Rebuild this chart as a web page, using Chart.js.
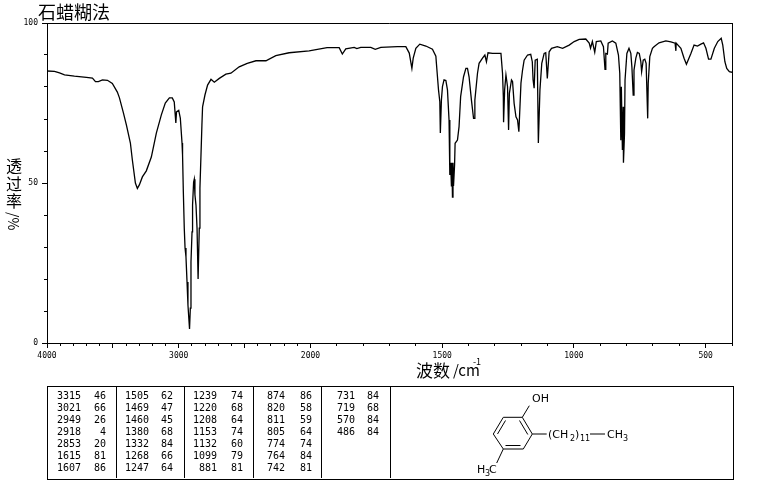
<!DOCTYPE html>
<html>
<head>
<meta charset="utf-8">
<script src="https://cdn.jsdelivr.net/npm/chart.js@4/dist/chart.umd.js"></script>
<style>
  html, body { margin: 0; padding: 0; background: #fff; }
  #page { position: relative; width: 765px; height: 482px; overflow: hidden; }
  #chart { position: absolute; left: 0; top: 0; }
  .cjk { position: absolute; font-family: "Noto Sans CJK SC", sans-serif; color: #000; line-height: 1; white-space: nowrap; font-weight: 400; }
  .num { position: absolute; font: 10px "DejaVu Sans Mono", monospace; color: #000; line-height: 12px; text-align: right; white-space: nowrap; }
  #peakBox { position: absolute; left: 47px; top: 386px; width: 685px; height: 92px; border: 1px solid #000; box-sizing: content-box; }
  .divider { position: absolute; top: 386px; height: 92px; width: 1px; background: #000; }
  svg { position: absolute; left: 0; top: 0; }
  svg line { stroke: #000; stroke-width: 1; }
  svg text { font: 11px "DejaVu Sans", sans-serif; fill: #000; }
</style>
</head>
<body>
<div id="page">
  <canvas id="chart" width="765" height="482"></canvas>
  <div class="cjk" style="left:38px;top:2px;font-size:18px">石蜡糊法</div>
  <div class="cjk" style="left:6px;top:157px;font-size:16px">透</div>
  <div class="cjk" style="left:6px;top:175px;font-size:16px">过</div>
  <div class="cjk" style="left:6px;top:192px;font-size:16px">率</div>
  <div class="cjk" style="left:21px;top:212px;font-size:14px;transform-origin:0 0;transform:rotate(90deg)">/%</div>
  <div class="cjk" style="left:416px;top:361px;font-size:17px">波数</div>
  <div class="cjk" style="left:453px;top:362px;font-size:15px">/cm</div>
  <div class="cjk" style="left:473px;top:357px;font-size:9px">-1</div>
  <div id="peakBox"></div>
  <div class="divider" style="left:116px"></div>
  <div class="divider" style="left:184px"></div>
  <div class="divider" style="left:253px"></div>
  <div class="divider" style="left:321px"></div>
  <div class="divider" style="left:390px"></div>
  <svg width="765" height="482">
    <line x1="503.3" y1="417.3" x2="522.3" y2="417.3"/>
    <line x1="522.3" y1="417.3" x2="532.3" y2="434"/>
    <line x1="519.5" y1="420.5" x2="527.8" y2="434.5"/>
    <line x1="532.3" y1="434" x2="523.3" y2="449"/>
    <line x1="523.3" y1="449" x2="503.3" y2="449"/>
    <line x1="520.5" y1="445.5" x2="505.5" y2="445.5"/>
    <line x1="503.3" y1="449" x2="493.3" y2="434"/>
    <line x1="493.3" y1="434" x2="503.3" y2="417.3"/>
    <line x1="497.5" y1="434" x2="505.5" y2="420.5"/>
    <line x1="522.3" y1="417.3" x2="529.3" y2="405.7"/>
    <line x1="532.3" y1="434" x2="546.7" y2="434"/>
    <line x1="590" y1="434" x2="605" y2="434"/>
    <line x1="503.3" y1="449" x2="496.7" y2="463"/>
    <text x="532" y="402">OH</text>
    <text x="548" y="438">(CH</text>
    <text x="570" y="441" style="font-size:8px">2</text>
    <text x="575" y="438">)</text>
    <text x="580" y="441" style="font-size:8px">11</text>
    <text x="607" y="438">CH</text>
    <text x="623" y="441" style="font-size:8px">3</text>
    <text x="477" y="473">H</text>
    <text x="485" y="476" style="font-size:8px">3</text>
    <text x="489" y="473">C</text>
  </svg>
</div>
<script>
// Spectrum
const wavenumbers = [
  4000, 3943, 3905, 3867, 3792, 3701, 3655, 3632, 3610, 3579, 3541, 3504, 3466, 3450, 3420, 3397,
  3367, 3352, 3329, 3314, 3299, 3276, 3246, 3208, 3170, 3132, 3102, 3071, 3049, 3034, 3022, 3017,
  3000, 2988, 2975, 2971, 2965, 2958, 2952, 2945, 2937, 2930, 2918, 2912, 2907, 2899, 2895, 2887,
  2882, 2877, 2869, 2861, 2853, 2844, 2839, 2831, 2824, 2819, 2801, 2781, 2755, 2730, 2692, 2642,
  2604, 2541, 2480, 2414, 2338, 2263, 2162, 2010, 1937, 1891, 1879, 1866, 1834, 1824, 1809, 1771,
  1754, 1733, 1670, 1638, 1625, 1615, 1610, 1600, 1585, 1562, 1537, 1524, 1522, 1514, 1509, 1507,
  1503, 1499, 1493, 1486, 1480, 1474, 1471, 1468, 1465, 1463, 1461, 1459, 1457, 1453, 1451, 1442,
  1436, 1430, 1419, 1410, 1404, 1398, 1389, 1381, 1379, 1376, 1366, 1360, 1347, 1338, 1332, 1326,
  1309, 1277, 1271, 1268, 1267, 1263, 1258, 1252, 1248, 1245, 1237, 1233, 1227, 1220, 1214, 1209,
  1207, 1201, 1195, 1189, 1176, 1164, 1158, 1155, 1151, 1147, 1139, 1135, 1129, 1122, 1113, 1107,
  1101, 1094, 1085, 1063, 1043, 1018, 999, 980, 955, 942, 937, 930, 921, 915, 898, 888,
  882, 879, 873, 870, 854, 841, 831, 826, 822, 820, 816, 813, 812, 808, 806, 799,
  791, 784, 780, 775, 772, 765, 759, 752, 746, 743, 737, 731, 726, 720, 718, 712,
  702, 696, 677, 651, 632, 616, 613, 612, 594, 582, 573, 556, 544, 531, 518, 508,
  499, 489, 480, 467, 454, 441, 435, 427, 420, 410, 400
];
const transmittance = [
  85.0, 84.9, 84.4, 83.8, 83.4, 83.0, 82.8, 81.7, 81.7, 82.2, 82.1, 81.1, 78.4, 76.6, 71.9, 68.1,
  62.5, 57.2, 50.0, 48.3, 49.4, 51.9, 53.8, 58.1, 65.6, 71.3, 75.0, 76.6, 76.6, 75.3, 68.8, 72.2,
  72.7, 70.3, 62.5, 58.8, 47.2, 35.9, 29.7, 26.9, 19.1, 11.9, 4.4, 10.9, 25.3, 34.7, 43.1, 50.3,
  51.2, 46.3, 43.1, 35.9, 20.0, 35.9, 48.4, 58.8, 68.1, 73.8, 77.5, 80.6, 82.4, 81.5, 82.7, 84.0,
  84.3, 86.3, 87.4, 88.2, 88.2, 89.8, 90.7, 91.3, 92.3, 92.3, 90.3, 91.9, 92.4, 92.0, 92.4, 92.4,
  91.8, 92.4, 92.6, 92.6, 90.6, 85.8, 89.0, 92.1, 93.4, 92.8, 91.8, 89.6, 87.4, 79.1, 75.4, 65.6,
  75.9, 80.1, 82.2, 82.0, 79.1, 69.7, 52.5, 56.3, 49.1, 56.3, 45.6, 56.3, 49.1, 55.6, 62.4, 63.4,
  67.6, 77.0, 83.2, 85.8, 85.8, 83.2, 75.9, 70.2, 70.2, 75.9, 84.3, 87.4, 89.0, 90.0, 87.9, 90.7,
  90.5, 90.5, 84.3, 77.0, 69.0, 79.1, 83.8, 80.1, 66.6, 78.0, 82.2, 81.7, 74.9, 70.7, 69.7, 66.0,
  69.7, 81.2, 85.3, 88.4, 90.0, 90.2, 87.9, 82.2, 79.6, 88.4, 88.7, 62.5, 79.1, 87.4, 90.5, 90.7,
  82.7, 91.0, 92.1, 92.6, 92.1, 93.1, 94.2, 94.9, 95.0, 93.7, 92.1, 94.2, 90.9, 94.2, 94.4, 92.6,
  85.5, 90.5, 90.3, 93.7, 94.4, 93.7, 90.0, 84.3, 63.4, 80.1, 60.3, 73.8, 56.3, 65.5, 82.2, 90.5,
  92.1, 90.5, 86.3, 77.5, 85.3, 89.0, 90.8, 90.5, 87.9, 84.8, 88.4, 88.7, 87.4, 70.2, 81.2, 89.5,
  92.1, 92.6, 93.8, 94.4, 94.1, 93.7, 91.3, 93.7, 92.1, 89.0, 87.1, 90.5, 93.1, 92.8, 93.4, 93.8,
  92.1, 88.7, 88.7, 92.1, 94.2, 95.2, 93.1, 87.9, 85.8, 84.8, 84.6
];

// Axis ticks
const xLongTicks = [4000, 3500, 3000, 2500, 2000, 1500, 1000, 500];
const xLabelled = [4000, 3000, 2000, 1500, 1000, 500];
const yLabelled = [0, 50, 100];

// Peak table, one list per column pair
const peakWaves = [
  [3315, 3021, 2949, 2918, 2853, 1615, 1607],
  [1505, 1469, 1460, 1380, 1332, 1268, 1247],
  [1239, 1220, 1208, 1153, 1132, 1099, 881],
  [874, 820, 811, 805, 774, 764, 742],
  [731, 719, 570, 486]
];
const peakTrans = [
  [46, 66, 26, 4, 20, 81, 86],
  [62, 47, 45, 68, 84, 66, 64],
  [74, 68, 64, 74, 60, 79, 81],
  [86, 58, 59, 64, 74, 84, 81],
  [84, 68, 84, 84]
];

// The axis changes scale at 2000: 4000-2000 gets half the px per unit of 2000-400
const X_HIGH = 4000, X_BREAK = 2000, X_LOW = 400;
const BREAK_FRAC = (X_HIGH - X_BREAK) / ((X_HIGH - X_BREAK) + 2 * (X_BREAK - X_LOW));

class IrWaveScale extends Chart.LinearScale {
  getPixelForValue(v) {
    let frac;
    if (v >= X_BREAK) frac = (X_HIGH - v) / (X_HIGH - X_BREAK) * BREAK_FRAC;
    else frac = BREAK_FRAC + (X_BREAK - v) / (X_BREAK - X_LOW) * (1 - BREAK_FRAC);
    return this.left + frac * this.width;
  }
  getValueForPixel(px) {
    const frac = (px - this.left) / this.width;
    if (frac <= BREAK_FRAC) return X_HIGH - frac / BREAK_FRAC * (X_HIGH - X_BREAK);
    return X_BREAK - (frac - BREAK_FRAC) / (1 - BREAK_FRAC) * (X_BREAK - X_LOW);
  }
}
IrWaveScale.id = 'irWave';
IrWaveScale.defaults = Chart.LinearScale.defaults;
Chart.register(IrWaveScale);

// top and right edges of the frame
const framePlugin = {
  id: 'frame',
  beforeDatasetsDraw(chart) {
    const { ctx, chartArea: a } = chart;
    ctx.save();
    ctx.strokeStyle = '#000';
    ctx.lineWidth = 1;
    ctx.beginPath();
    ctx.moveTo(a.left, a.top + 0.5);
    ctx.lineTo(a.right + 0.5, a.top + 0.5);
    ctx.moveTo(a.right + 0.5, a.top);
    ctx.lineTo(a.right + 0.5, a.bottom);
    ctx.stroke();
    ctx.restore();
  }
};

const tickFont = { family: '"DejaVu Sans Mono", monospace', size: 8 };

new Chart(document.getElementById('chart'), {
  type: 'line',
  data: {
    datasets: [{
      data: wavenumbers.map((w, i) => ({ x: w, y: transmittance[i] })),
      borderColor: '#000',
      borderWidth: 1.3,
      pointRadius: 0,
      tension: 0,
      fill: false
    }]
  },
  plugins: [framePlugin],
  options: {
    responsive: false,
    animation: false,
    devicePixelRatio: 1,
    layout: { padding: { left: 0, top: 23, right: 33, bottom: 0 } },
    plugins: { legend: { display: false }, tooltip: { enabled: false } },
    scales: {
      x: {
        type: 'irWave',
        position: 'bottom',
        weight: 1,
        min: X_LOW,
        max: X_HIGH,
        afterBuildTicks: axis => { axis.ticks = xLongTicks.map(v => ({ value: v })); },
        afterFit: axis => { axis.height = 139; },
        border: { color: '#000', width: 1 },
        grid: { drawOnChartArea: false, tickLength: 5, tickColor: '#000' },
        ticks: {
          autoSkip: false, maxRotation: 0, color: '#000', font: tickFont, padding: 3,
          callback: v => (xLabelled.includes(v) ? String(v) : '')
        }
      },
      xMinor: {
        type: 'irWave',
        position: 'bottom',
        weight: 0,
        min: X_LOW,
        max: X_HIGH,
        afterFit: axis => { axis.height = 0; },
        border: { display: false },
        grid: { drawOnChartArea: false, tickLength: 3, tickColor: '#000' },
        ticks: { stepSize: 100, autoSkip: false, display: false }
      },
      y: {
        type: 'linear',
        position: 'left',
        weight: 1,
        min: 0,
        max: 100,
        afterBuildTicks: axis => { axis.ticks = yLabelled.map(v => ({ value: v })); },
        afterFit: axis => { axis.width = 47; },
        border: { color: '#000', width: 1 },
        grid: { drawOnChartArea: false, tickLength: 5, tickColor: '#000' },
        ticks: { autoSkip: false, color: '#000', font: tickFont, padding: 4 }
      },
      yMinor: {
        type: 'linear',
        position: 'left',
        weight: 0,
        min: 0,
        max: 100,
        afterFit: axis => { axis.width = 0; },
        border: { display: false },
        grid: { drawOnChartArea: false, tickLength: 3, tickColor: '#000' },
        ticks: { stepSize: 10, autoSkip: false, display: false }
      }
    }
  }
});

// Peak table text
const waveRight = [81, 149, 217, 285, 355];
const transRight = [106, 173, 243, 312, 379];
const page = document.getElementById('page');
function addNum(text, right, top) {
  const el = document.createElement('div');
  el.className = 'num';
  el.textContent = text;
  el.style.left = (right - 40) + 'px';
  el.style.width = '40px';
  el.style.top = top + 'px';
  page.appendChild(el);
}
peakWaves.forEach((col, c) => {
  col.forEach((w, r) => {
    const top = 390 + r * 12.05;
    addNum(w, waveRight[c], top);
    addNum(peakTrans[c][r], transRight[c], top);
  });
});
</script>
</body>
</html>
